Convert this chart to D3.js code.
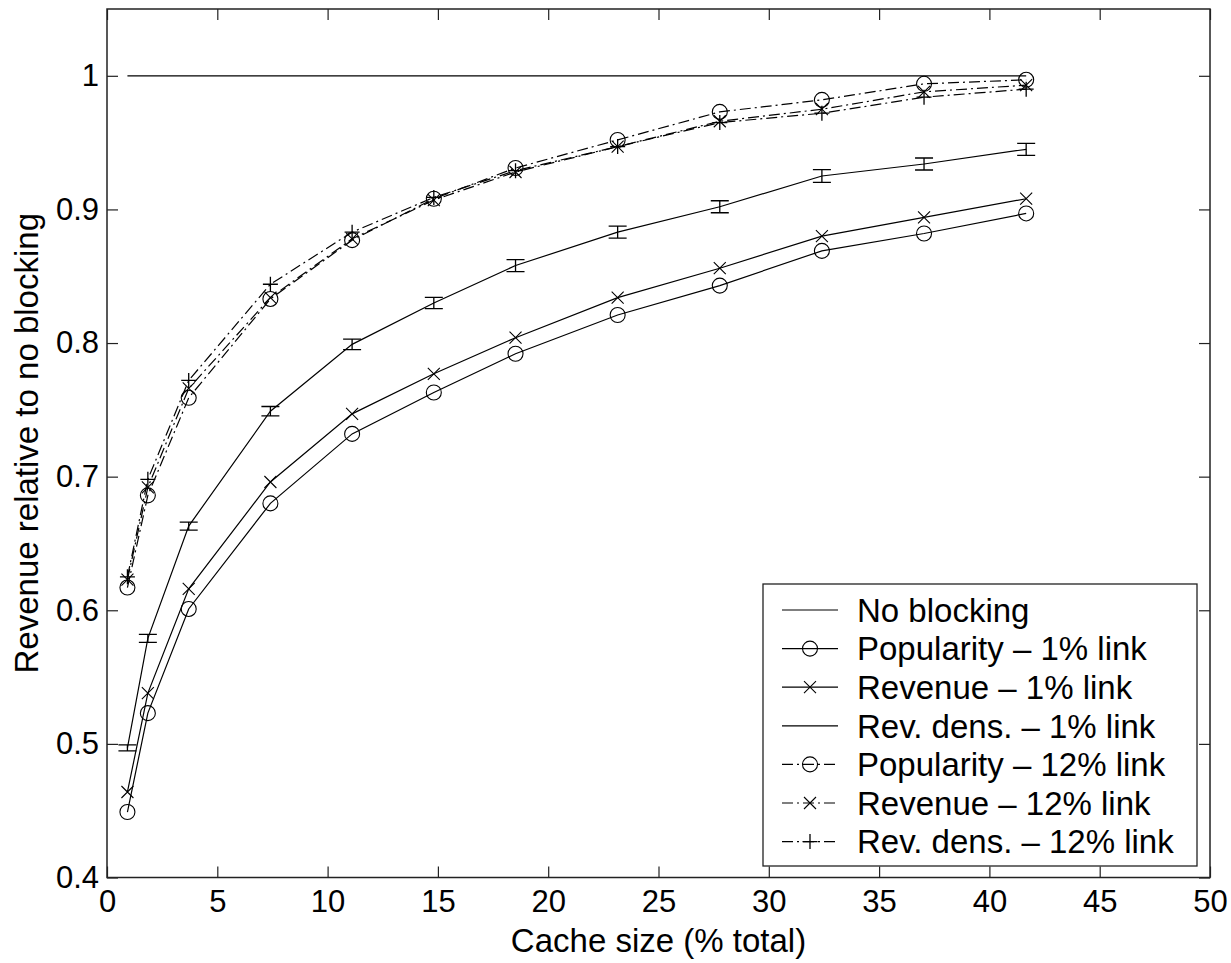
<!DOCTYPE html>
<html>
<head>
<meta charset="utf-8">
<script src="https://cdn.jsdelivr.net/npm/d3@7"></script>
<style>
  html, body { margin: 0; padding: 0; background: #fff; }
  svg { display: block; }
  text { font-family: "Liberation Sans", Arial, Helvetica, sans-serif; fill: #000; }
</style>
</head>
<body>
<svg id="chart" width="1231" height="963"></svg>
<script>
// Cache sizes (% of total) at which each policy was simulated
const cacheSize = [0.926, 1.852, 3.704, 7.407, 11.111, 14.815, 18.519, 23.148, 27.778, 32.407, 37.037, 41.667];

// Revenue relative to no blocking, one array per policy / link capacity
const noBlocking   = [1, 1, 1, 1, 1, 1, 1, 1, 1, 1, 1, 1];
const popularity1  = [0.449, 0.523, 0.601, 0.680, 0.732, 0.763, 0.792, 0.821, 0.843, 0.869, 0.882, 0.897];
const revenue1     = [0.464, 0.538, 0.616, 0.696, 0.747, 0.777, 0.804, 0.834, 0.856, 0.880, 0.894, 0.908];
const revDens1     = [0.497, 0.579, 0.663, 0.749, 0.799, 0.830, 0.858, 0.883, 0.902, 0.925, 0.934, 0.945];
const revDens1Err  = [0.0022, 0.003, 0.003, 0.0035, 0.004, 0.0042, 0.0045, 0.0045, 0.0045, 0.0048, 0.0045, 0.0045];
const popularity12 = [0.617, 0.686, 0.759, 0.833, 0.877, 0.908, 0.931, 0.952, 0.973, 0.982, 0.994, 0.997];
const revenue12    = [0.623, 0.692, 0.766, 0.834, 0.878, 0.907, 0.928, 0.947, 0.966, 0.975, 0.988, 0.993];
const revDens12    = [0.625, 0.698, 0.772, 0.844, 0.883, 0.909, 0.929, 0.947, 0.965, 0.972, 0.984, 0.990];

// Axis ticks and labels
const xTicks = [0, 5, 10, 15, 20, 25, 30, 35, 40, 45, 50];
const yTicks = [0.4, 0.5, 0.6, 0.7, 0.8, 0.9, 1];
const xLabel = "Cache size (% total)";
const yLabel = "Revenue relative to no blocking";

// Series: name, values, marker, dash
const series = [
  { name: "No blocking",                 values: noBlocking,   marker: "none",   dash: null },
  { name: "Popularity \u2013 1% link",   values: popularity1,  marker: "circle", dash: null },
  { name: "Revenue \u2013 1% link",      values: revenue1,     marker: "x",      dash: null },
  { name: "Rev. dens. \u2013 1% link",   values: revDens1,     marker: "errbar", dash: null, err: revDens1Err },
  { name: "Popularity \u2013 12% link",  values: popularity12, marker: "circle", dash: "11,4,2,4" },
  { name: "Revenue \u2013 12% link",     values: revenue12,    marker: "x",      dash: "11,4,2,4" },
  { name: "Rev. dens. \u2013 12% link",  values: revDens12,    marker: "plus",   dash: "11,4,2,4" }
];

const svg = d3.select("#chart");
const plotLeft = 107, plotRight = 1210, plotTop = 9, plotBottom = 877.5;

const x = d3.scaleLinear().domain([0, 50]).range([plotLeft, plotRight]);
const y = d3.scaleLinear().domain([0.4, 1.05]).range([plotBottom, plotTop]);

// Plot background
svg.append("rect").attr("x", plotLeft).attr("y", plotTop)
  .attr("width", plotRight - plotLeft).attr("height", plotBottom - plotTop)
  .attr("fill", "#fff");

// Axes (ticks pointing inward on all four sides)
const tickLen = 11;
const fmtY = d => d === 1 ? "1" : d3.format(".1f")(d);

const gx = svg.append("g").attr("transform", `translate(0,${plotBottom})`)
  .call(d3.axisBottom(x).tickValues(xTicks).tickSizeInner(-tickLen).tickSizeOuter(0)
        .tickPadding(12).tickFormat(d3.format("d")));
const gxTop = svg.append("g").attr("transform", `translate(0,${plotTop})`)
  .call(d3.axisTop(x).tickValues(xTicks).tickSizeInner(-tickLen).tickSizeOuter(0).tickFormat(""));
const gy = svg.append("g").attr("transform", `translate(${plotLeft},0)`)
  .call(d3.axisLeft(y).tickValues(yTicks).tickSizeInner(-tickLen).tickSizeOuter(0)
        .tickPadding(8).tickFormat(fmtY));
const gyRight = svg.append("g").attr("transform", `translate(${plotRight},0)`)
  .call(d3.axisRight(y).tickValues(yTicks).tickSizeInner(-tickLen).tickSizeOuter(0).tickFormat(""));

[gx, gxTop, gy, gyRight].forEach(g => {
  g.select(".domain").remove();
  g.selectAll(".tick line").attr("stroke", "#222").attr("stroke-width", 1.2);
  g.selectAll("text").attr("font-size", 31).attr("font-family", "'Liberation Sans', Arial, sans-serif").attr("fill", "#000");
});

// Box around plot
svg.append("rect").attr("x", plotLeft).attr("y", plotTop)
  .attr("width", plotRight - plotLeft).attr("height", plotBottom - plotTop)
  .attr("fill", "none").attr("stroke", "#222").attr("stroke-width", 1.5);

// Axis labels
svg.append("text").attr("x", (plotLeft + plotRight) / 2).attr("y", 952)
  .attr("text-anchor", "middle").attr("font-size", 33).text(xLabel);
svg.append("text")
  .attr("transform", `translate(38,${(plotTop + plotBottom) / 2}) rotate(-90)`)
  .attr("text-anchor", "middle").attr("font-size", 33).text(yLabel);

// Marker drawing
function drawMarker(g, type, cx, cy, extra) {
  if (type === "circle") {
    g.append("circle").attr("cx", cx).attr("cy", cy).attr("r", 7.5)
      .attr("fill", "none").attr("stroke", "#000").attr("stroke-width", 1.1);
  } else if (type === "x") {
    const s = 6;
    g.append("path").attr("d", `M${cx - s},${cy - s}L${cx + s},${cy + s}M${cx - s},${cy + s}L${cx + s},${cy - s}`)
      .attr("stroke", "#000").attr("stroke-width", 1.1).attr("fill", "none");
  } else if (type === "plus") {
    const s = 7.5;
    g.append("path").attr("d", `M${cx - s},${cy}L${cx + s},${cy}M${cx},${cy - s}L${cx},${cy + s}`)
      .attr("stroke", "#000").attr("stroke-width", 1.3).attr("fill", "none");
  } else if (type === "errbar") {
    const w = 9;
    const y0 = extra.y0, y1 = extra.y1;
    g.append("path").attr("d",
        `M${cx},${y0}L${cx},${y1}M${cx - w},${y0}L${cx + w},${y0}M${cx - w},${y1}L${cx + w},${y1}`)
      .attr("stroke", "#000").attr("stroke-width", 1.3).attr("fill", "none");
  }
}

const line = d3.line().x(d => x(d[0])).y(d => y(d[1]));
const plot = svg.append("g");

series.forEach(s => {
  const pts = cacheSize.map((c, i) => [c, s.values[i]]);
  plot.append("path").datum(pts).attr("d", line)
    .attr("fill", "none").attr("stroke", "#000").attr("stroke-width", 1.2)
    .attr("stroke-dasharray", s.dash);
  if (s.marker !== "none") {
    const mg = plot.append("g");
    pts.forEach((p, i) => {
      if (s.marker === "errbar") {
        drawMarker(mg, "errbar", x(p[0]), y(p[1]), { y0: y(p[1] - s.err[i]), y1: y(p[1] + s.err[i]) });
      } else {
        drawMarker(mg, s.marker, x(p[0]), y(p[1]));
      }
    });
  }
});

// Legend
const lg = svg.append("g");
const lx0 = 763, ly0 = 584, lw = 434, lh = 282;
lg.append("rect").attr("x", lx0).attr("y", ly0).attr("width", lw).attr("height", lh)
  .attr("fill", "#fff").attr("stroke", "#222").attr("stroke-width", 1.3);
series.forEach((s, i) => {
  const cy = 610 + i * 38.6;
  lg.append("line").attr("x1", 782).attr("x2", 838).attr("y1", cy).attr("y2", cy)
    .attr("stroke", "#000").attr("stroke-width", 1.2).attr("stroke-dasharray", s.dash);
  if (s.marker !== "none" && s.marker !== "errbar") drawMarker(lg, s.marker, 810, cy);
  lg.append("text").attr("x", 857).attr("y", cy).attr("dy", "0.36em")
    .attr("font-size", 33).text(s.name);
});
</script>
</body>
</html>
